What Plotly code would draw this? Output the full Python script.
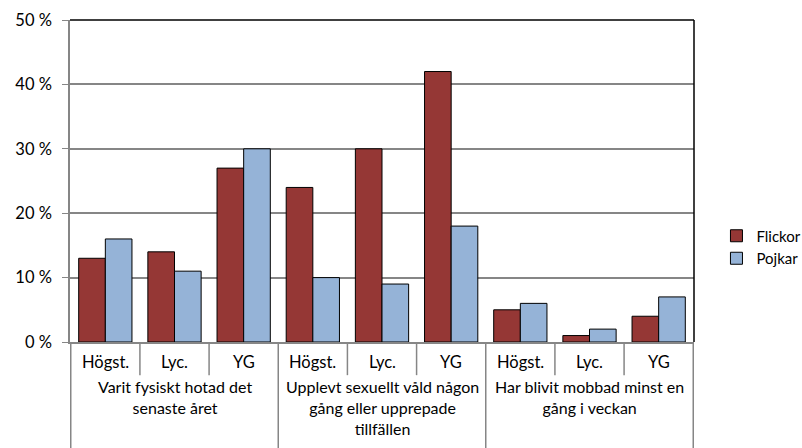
import plotly.graph_objects as go

GROUPS = [
    "Varit fysiskt hotad det<br>senaste året",
    "Upplevt sexuellt våld någon<br>gång eller upprepade<br>tillfällen",
    "Har blivit mobbad minst en<br>gång i veckan",
]
SCHOOLS = ["Högst.", "Lyc.", "YG"]
FLICKOR = [13, 14, 27, 24, 30, 42, 5, 1, 4]
POJKAR = [16, 11, 30, 10, 9, 18, 6, 2, 7]
Y_TICKS = [0, 10, 20, 30, 40, 50]

RED = "#953735"
BLUE = "#95B3D7"
GREY = "#868686"
FONT = "Lato, Open Sans, sans-serif"

cats = [f"{g}|{s}" for g in GROUPS for s in SCHOOLS]

fig = go.Figure()
fig.add_trace(go.Bar(x=cats, y=FLICKOR, name="Flickor", marker=dict(color=RED, line=dict(color="black", width=1))))
fig.add_trace(go.Bar(x=cats, y=POJKAR, name="Pojkar", marker=dict(color=BLUE, line=dict(color="black", width=1))))

shapes = []
# dividers below the axis: short between schools, long between groups
for i in range(len(cats) + 1):
    long = i % 3 == 0
    shapes.append(dict(type="line", xref="x", yref="paper", x0=i - 0.5, x1=i - 0.5,
                       y0=0, y1=-0.35 if long else -0.103, line=dict(color=GREY, width=1.5)))
# top and right frame of the plot area
shapes.append(dict(type="line", xref="paper", yref="paper", x0=0, x1=1, y0=1, y1=1, line=dict(color="black", width=1.5)))
shapes.append(dict(type="line", xref="paper", yref="paper", x0=1, x1=1, y0=0, y1=1, line=dict(color="black", width=1.5)))

annotations = []
for c, s in zip(cats, SCHOOLS * 3):
    annotations.append(dict(x=c, y=-0.062, xref="x", yref="paper", text=s, showarrow=False,
                            yanchor="middle", font=dict(size=16.5, color="black")))
for g_idx, g in enumerate(GROUPS):
    annotations.append(dict(x=cats[g_idx * 3 + 1], y=-0.101, xref="x", yref="paper", text=g, showarrow=False,
                            yanchor="top", font=dict(size=16, color="black")))

fig.update_layout(
    width=802, height=448,
    margin=dict(l=70, r=108, t=20, b=106, autoexpand=False),
    paper_bgcolor="white", plot_bgcolor="white",
    font=dict(family=FONT, size=16, color="black"),
    barmode="group", bargap=0.23, bargroupgap=0,
    showlegend=True,
    legend=dict(x=1.036, y=0.295, xanchor="left", yanchor="middle", font=dict(size=15),
                tracegroupgap=4, itemwidth=30),
    shapes=shapes, annotations=annotations,
)
fig.update_xaxes(showticklabels=False, showgrid=False, showline=True, linecolor=GREY, linewidth=1.5,
                 ticks="", zeroline=False)
fig.update_yaxes(range=[0, 50], tickvals=Y_TICKS, ticktext=[f"{v} %" for v in Y_TICKS],
                 showgrid=True, gridcolor=GREY, gridwidth=1.5, showline=True, linecolor=GREY, linewidth=1.5,
                 ticks="outside", ticklen=6, tickcolor=GREY, zeroline=False, tickfont=dict(size=16.5),
                 ticklabelstandoff=7)

fig.write_html("out.html", config={"displayModeBar": False}, post_script="document.body.style.margin='0';")
